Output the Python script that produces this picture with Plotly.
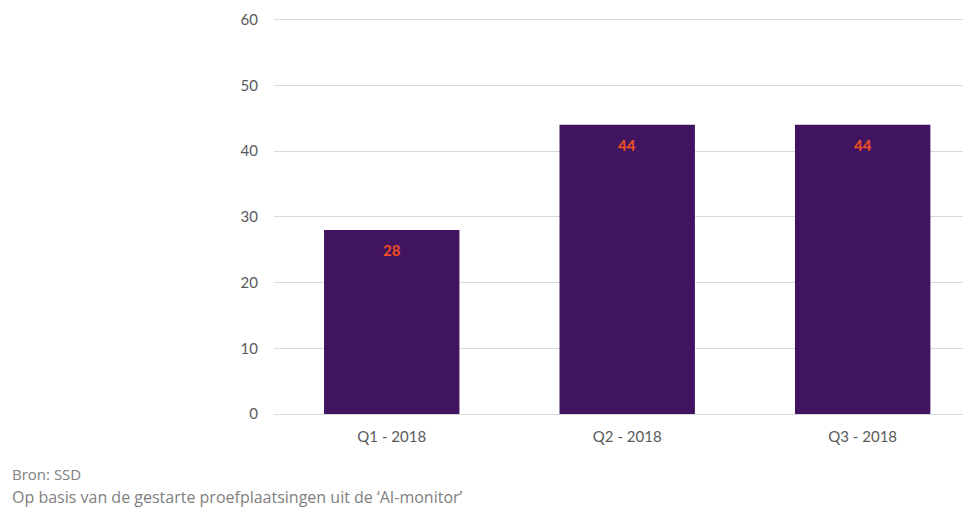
import plotly.graph_objects as go

categories = ["Q1 - 2018", "Q2 - 2018", "Q3 - 2018"]
values = [28, 44, 44]
y_ticks = [0, 10, 20, 30, 40, 50, 60]

W, H = 963, 500
left, right, top, bottom = 266, 0, 5, 94
ph = H - top - bottom
pw = W - left - right

FONT = "Lato, Open Sans, sans-serif"
FOOT = "Open Sans, Lato, sans-serif"

fig = go.Figure()
fig.add_trace(go.Bar(
    x=categories, y=values, marker_color="#411462", width=0.575,
    marker_line_width=0, hoverinfo="skip"
))
for c, v in zip(categories, values):
    fig.add_annotation(x=c, y=v, text="<b>%d</b>" % v, showarrow=False,
                       yanchor="top", yshift=-9,
                       font=dict(family=FONT, size=15, color="#F0501E"))

fig.add_annotation(xref="paper", yref="paper", x=-(left - 2) / pw, y=-(474 - 414) / ph,
                   xanchor="left", yanchor="middle",
                   text="Bron: SSD", showarrow=False, align="left",
                   font=dict(family=FOOT, size=15, color="#808080"))
fig.add_annotation(xref="paper", yref="paper", x=-(left - 2) / pw, y=-(497 - 414) / ph,
                   xanchor="left", yanchor="middle",
                   text="Op basis van de gestarte proefplaatsingen uit de ‘AI-monitor’", showarrow=False, align="left",
                   font=dict(family=FOOT, size=16, color="#808080"))

fig.update_layout(
    width=W, height=H, margin=dict(l=left, r=right, t=top, b=bottom, autoexpand=False),
    plot_bgcolor="white", paper_bgcolor="white", showlegend=False,
    font=dict(family=FONT, size=15, color="#595959"),
)
fig.update_xaxes(range=[-0.5, 2.46], showgrid=False, showline=False, ticks="",
                 ticklabelstandoff=12, tickfont=dict(size=15, color="#595959"))
fig.update_yaxes(range=[0, 61], tickvals=y_ticks, showgrid=True, gridcolor="#D9D9D9", gridwidth=1,
                 zeroline=True, zerolinecolor="#D9D9D9", zerolinewidth=1,
                 ticks="", ticklabelstandoff=15, tickfont=dict(size=15, color="#595959"))

fig.write_html("out.html")
